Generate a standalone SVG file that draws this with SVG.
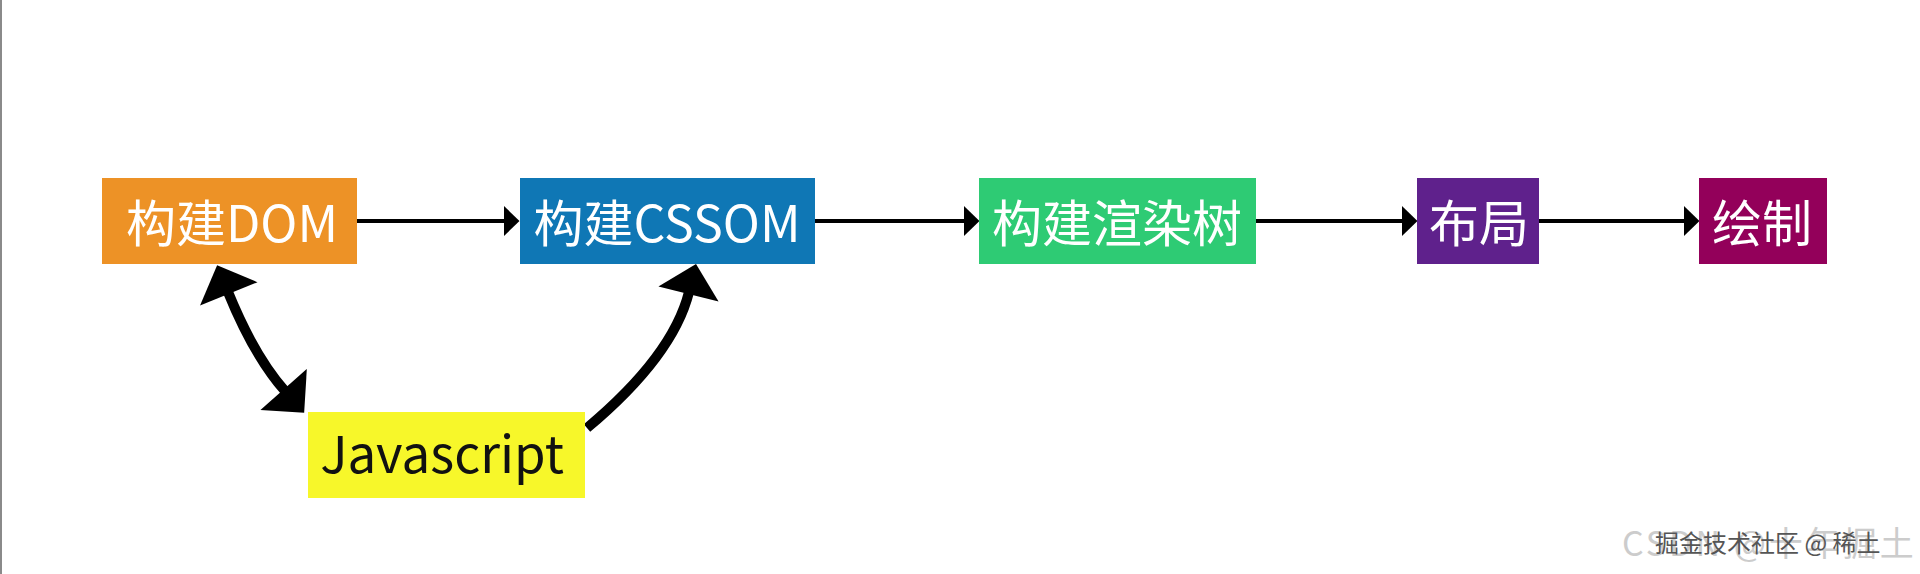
<svg xmlns="http://www.w3.org/2000/svg" width="1920" height="574" viewBox="0 0 1920 574">
<style>
.lbl{font-family:"Noto Sans CJK SC","Noto Sans",sans-serif;font-size:50px;fill:#ffffff;text-anchor:middle}
.js{font-family:"Noto Sans CJK SC","Noto Sans",sans-serif;font-size:51px;fill:#111111;text-anchor:middle}
.thin{fill:none;stroke:#000;stroke-width:4;marker-end:url(#ah)}
.thick{fill:none;stroke:#000;stroke-width:10}
.wm1{font-family:"Noto Sans CJK SC",sans-serif;font-size:34px;fill:#cccccc;letter-spacing:3px}
.wm2{font-family:"Noto Sans CJK SC",sans-serif;font-size:24px;fill:#555}
</style>
<defs>
<marker id="ah" markerUnits="userSpaceOnUse" markerWidth="16" markerHeight="30" viewBox="0 0 15 29" refX="1" refY="14.5" orient="auto">
<path d="M0,0 L15,14.5 L0,29 z" fill="#000"/>
</marker>
<marker id="big" markerUnits="userSpaceOnUse" markerWidth="32" markerHeight="62" viewBox="0 0 30 60" refX="2" refY="30" orient="auto-start-reverse">
<path d="M0,0 L30,30 L0,60 z" fill="#000"/>
</marker>
</defs>
<rect width="1920" height="574" fill="#ffffff"/>
<rect x="0" y="0" width="2" height="574" fill="#8a8a8a"/>
<g id="connectors">
<path class="thin" d="M357,221 H505"/>
<path class="thin" d="M815,221 H965"/>
<path class="thin" d="M1256,221 H1403"/>
<path class="thin" d="M1539,221 H1685"/>
<path class="thick" d="M228,292 Q254,356 285,391" marker-start="url(#big)" marker-end="url(#big)"/>
<path class="thick" d="M587,428 Q673,356 689,292" marker-end="url(#big)"/>
</g>
<g id="node-dom">
<rect x="102" y="178" width="255" height="86" fill="#ED9226"/>
<text class="lbl" x="232" y="242">构建DOM</text>
</g>
<g id="node-cssom">
<rect x="520" y="178" width="295" height="86" fill="#0F77B5"/>
<text class="lbl" x="667" y="242">构建CSSOM</text>
</g>
<g id="node-render">
<rect x="979" y="178" width="277" height="86" fill="#2ECB74"/>
<text class="lbl" x="1117" y="242">构建渲染树</text>
</g>
<g id="node-layout">
<rect x="1417" y="178" width="122" height="86" fill="#5F218C"/>
<text class="lbl" x="1479" y="242">布局</text>
</g>
<g id="node-paint">
<rect x="1699" y="178" width="128" height="86" fill="#93005A"/>
<text class="lbl" x="1762" y="242">绘制</text>
</g>
<g id="node-js">
<rect x="308" y="412" width="277" height="86" fill="#F7F72A"/>
<text class="js" x="442" y="473">Javascript</text>
</g>
<g id="watermark">
<text class="wm1" x="1622" y="556">CSDN @十年掘土</text>
<text class="wm2" x="1655" y="552">掘金技术社区 @ 稀土</text>
</g>
</svg>
